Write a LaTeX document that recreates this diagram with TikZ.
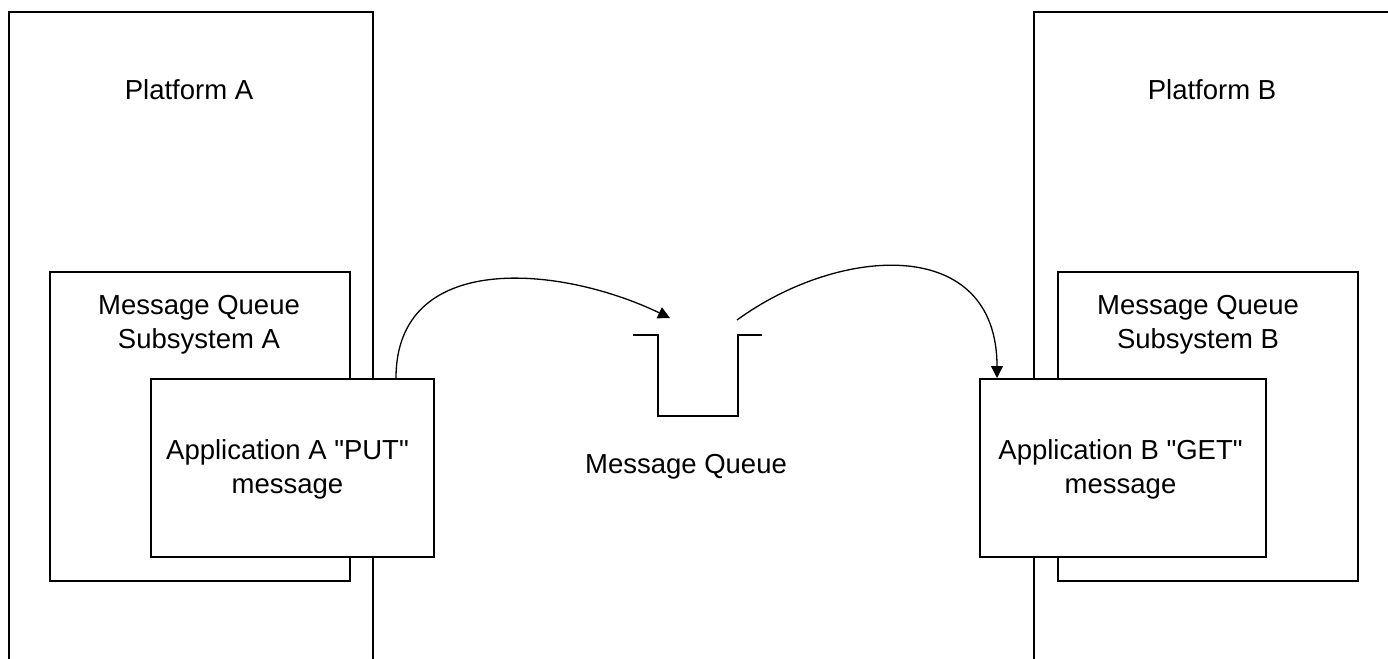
\documentclass[tikz,border=0pt]{standalone}
\usepackage{fontspec}
\setmainfont{Liberation Sans}[Ligatures=TeXOff]
\usetikzlibrary{arrows.meta}
\begin{document}
\begin{tikzpicture}[x=1pt,y=-1pt,
  box/.style={draw=black,line width=1.6pt,fill=white,rectangle,inner sep=0pt,anchor=north west},
  lbl/.style={inner sep=0pt,align=center,font=\fontsize{27.5}{34}\selectfont},
  conn/.style={line width=1.3pt,-{Triangle[length=12pt,width=12pt]}},
  queue/.style={line width=1.6pt}]
\useasboundingbox (0,0) rectangle (1388,658);
% platforms (open at bottom / right, beyond the page)
\node[box,minimum width=364pt,minimum height=700pt] (platA) at (8,11) {};
\node[box,minimum width=420pt,minimum height=700pt] (platB) at (1033,11) {};
\node[lbl,anchor=base] (platAl) at (189,100) {Platform A};
\node[lbl,anchor=base] (platBl) at (1212,100) {Platform B};
% subsystems
\node[box,minimum width=300pt,minimum height=309pt] (subA) at (49,271) {};
\node[box,minimum width=300pt,minimum height=309pt] (subB) at (1057,271) {};
\node[lbl] (subAl) at (199,325) {Message Queue\\Subsystem A};
\node[lbl] (subBl) at (1198,325) {Message Queue\\Subsystem B};
% applications
\node[box,minimum width=283pt,minimum height=178pt] (appA) at (150,378) {};
\node[box,minimum width=286pt,minimum height=178pt] (appB) at (979,378) {};
\node[lbl] (appAl) at (287.5,469) {Application A "PUT"\\message};
\node[lbl] (appBl) at (1120.5,469) {Application B "GET"\\message};
% queue
\draw[queue] (633,335) -- (658,335) -- (658,416) -- (738,416) -- (738,335) -- (762,335);
\node[lbl,anchor=base] (mq) at (686,473) {Message Queue};
% connectors
\coordinate (aout) at (396,378);
\coordinate (qin) at (670,318);
\coordinate (qout) at (737,320);
\coordinate (bin) at (997,378);
\draw[conn] (aout) .. controls (396,250) and (560,265) .. (qin);
\draw[conn] (qout) .. controls (840,245) and (997,235) .. (bin);
\end{tikzpicture}
\end{document}
